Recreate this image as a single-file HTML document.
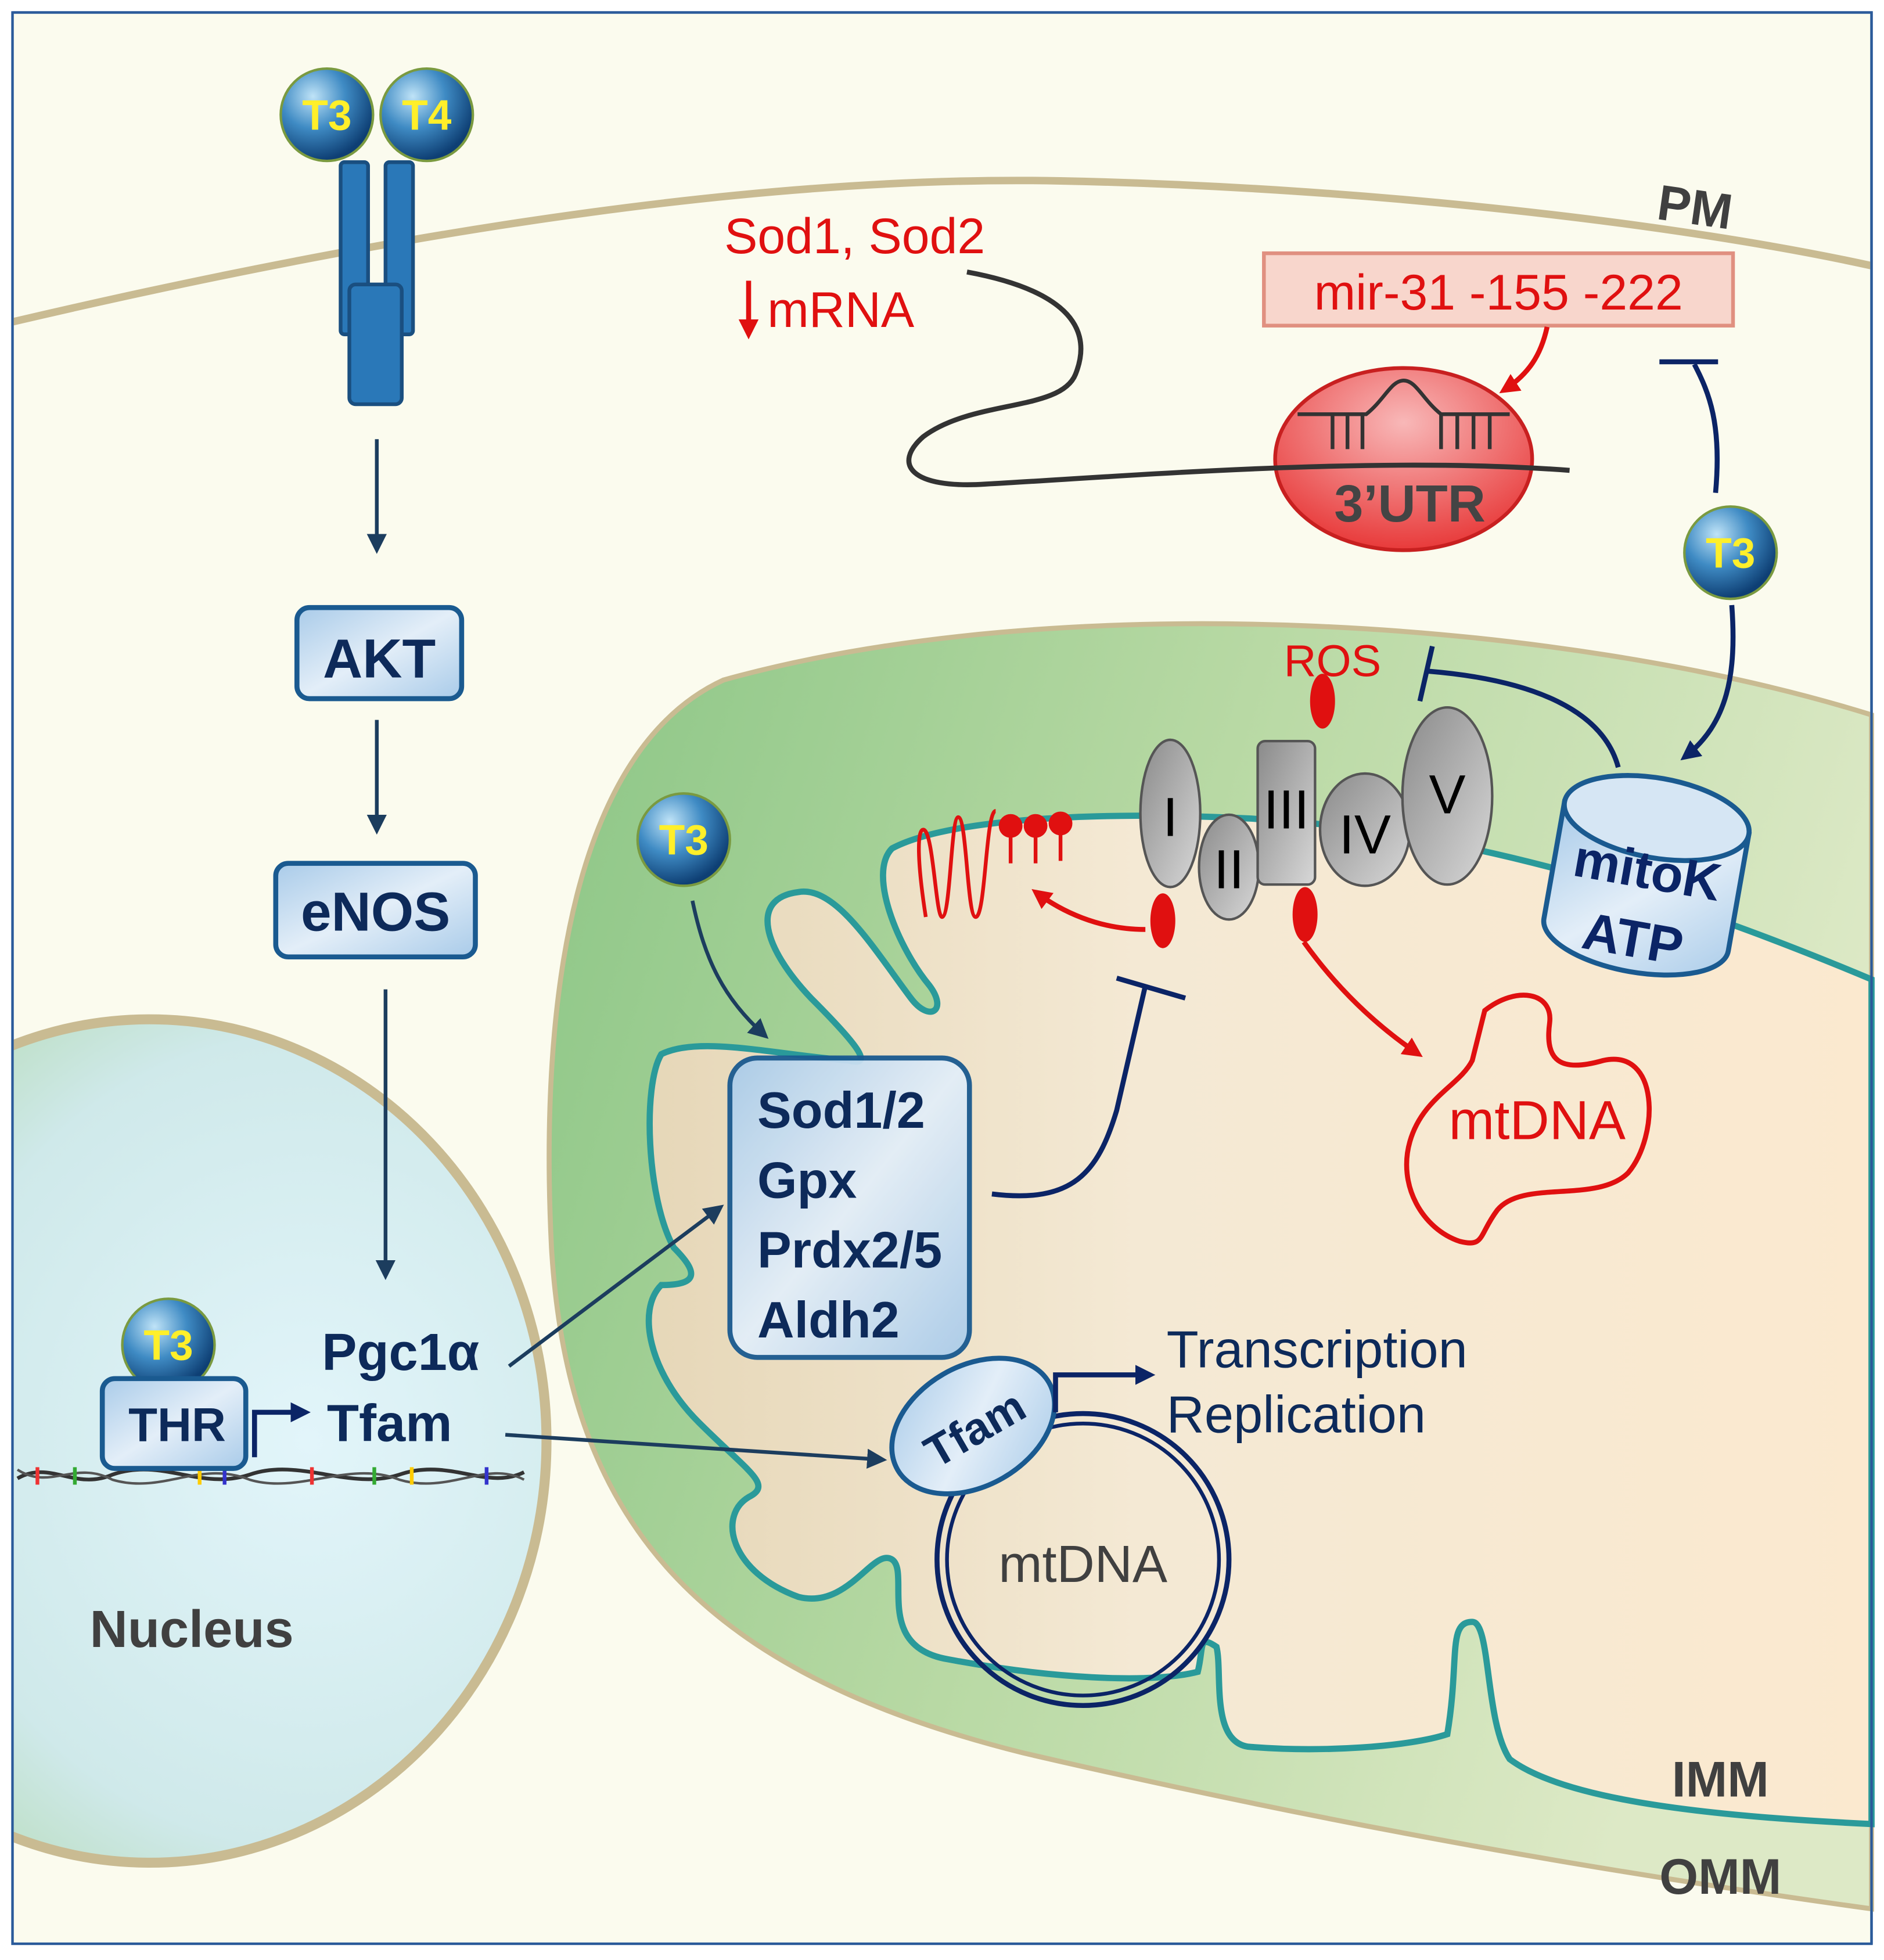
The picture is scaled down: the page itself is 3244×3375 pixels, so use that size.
<!DOCTYPE html>
<html><head><meta charset="utf-8"><style>
html,body{margin:0;padding:0;background:#fff}
svg{display:block}
text{font-family:"Liberation Sans",sans-serif}
</style></head><body>
<svg width="3244" height="3375" viewBox="0 0 1510 1571" preserveAspectRatio="none" xmlns="http://www.w3.org/2000/svg">
<defs>
<linearGradient id="mito" x1="0" y1="0" x2="1" y2="0.3">
<stop offset="0" stop-color="#8cc686"/><stop offset="0.5" stop-color="#b8d9a4"/><stop offset="1" stop-color="#dde9c6"/></linearGradient>
<linearGradient id="inner" x1="0" y1="0" x2="1" y2="0">
<stop offset="0" stop-color="#e6d7b8"/><stop offset="0.4" stop-color="#f4e9d4"/><stop offset="1" stop-color="#fbe9cf"/></linearGradient>
<radialGradient id="nuc" cx="0.7" cy="0.5" r="0.8">
<stop offset="0" stop-color="#e2f5fa"/><stop offset="0.6" stop-color="#cfe9ea"/><stop offset="1" stop-color="#a8d39a"/></radialGradient>
<radialGradient id="ball" cx="0.35" cy="0.3" r="0.7">
<stop offset="0" stop-color="#bfe3f7"/><stop offset="0.5" stop-color="#3f8bc4"/><stop offset="1" stop-color="#0e3f74"/></radialGradient>
<linearGradient id="box" x1="0" y1="0" x2="1" y2="1">
<stop offset="0" stop-color="#a9cbe9"/><stop offset="0.5" stop-color="#e3eef8"/><stop offset="1" stop-color="#a9cbe9"/></linearGradient>
<linearGradient id="gray" x1="0" y1="0" x2="1" y2="1">
<stop offset="0" stop-color="#8a8a8a"/><stop offset="1" stop-color="#d8d8d8"/></linearGradient>
<radialGradient id="utr" cx="0.5" cy="0.3" r="0.7">
<stop offset="0" stop-color="#f8b8b8"/><stop offset="1" stop-color="#e83a3a"/></radialGradient>
<marker id="ab2" markerWidth="16" markerHeight="16" refX="12" refY="8" orient="auto" markerUnits="userSpaceOnUse"><path d="M0,0 L16,8 L0,16 Z" fill="#1c3d5e"/></marker>
<marker id="an" markerWidth="16" markerHeight="16" refX="12" refY="8" orient="auto" markerUnits="userSpaceOnUse"><path d="M0,0 L16,8 L0,16 Z" fill="#0b2466"/></marker>
<marker id="ar" markerWidth="16" markerHeight="16" refX="12" refY="8" orient="auto" markerUnits="userSpaceOnUse"><path d="M0,0 L16,8 L0,16 Z" fill="#e01010"/></marker>
</defs>
<rect x="0" y="0" width="1510" height="1571" fill="#fff"/>
<rect x="10" y="10" width="1490" height="1548" fill="#fbfbee" stroke="#2a5a9a" stroke-width="2"/>
<path d="M10,258 C300,190 600,140 850,145 C1100,150 1350,180 1500,213" fill="none" stroke="#c9bb92" stroke-width="6"/>
<path d="M1500,573 C1250,495 850,470 580,545 C460,600 432,800 442,1000 C455,1220 560,1340 820,1405 C1100,1470 1320,1505 1500,1530 Z" fill="url(#mito)" stroke="#c9bb92" stroke-width="4"/>
<path d="M1500,785 C1350,722 1180,665 1000,656 C880,650 760,656 715,680 C695,700 720,760 745,790 C760,810 745,820 730,800 C700,760 670,710 640,715 C600,720 612,760 650,800 C690,840 700,855 680,850 C620,845 560,830 530,845 C515,870 518,960 540,1000 C560,1020 560,1030 530,1030 C510,1050 520,1100 560,1140 C600,1180 620,1190 600,1200 C575,1215 585,1260 640,1280 C680,1290 700,1240 715,1250 C730,1260 700,1320 760,1330 C840,1345 920,1350 960,1340 C965,1320 960,1310 975,1320 C980,1340 970,1395 1000,1400 C1060,1405 1130,1400 1160,1390 C1170,1330 1160,1300 1180,1300 C1195,1300 1190,1380 1210,1410 C1250,1440 1350,1455 1500,1462 Z" fill="url(#inner)" stroke="#2a9a9a" stroke-width="5"/>
<ellipse cx="120" cy="1155" rx="318" ry="338" fill="url(#nuc)" stroke="#c9bb92" stroke-width="8"/>
<rect x="0" y="0" width="10" height="1571" fill="#fff"/>
<rect x="0" y="1558" width="1510" height="13" fill="#fff"/>
<rect x="10" y="10" width="1490" height="1548" fill="none" stroke="#2a5a9a" stroke-width="2"/>
<path d="M14,1185 C40,1170 60,1195 90,1182 C130,1168 160,1195 200,1182 C240,1168 280,1195 320,1182 C360,1168 390,1195 420,1180" fill="none" stroke="#333" stroke-width="3"/>
<path d="M14,1178 C40,1195 60,1170 90,1186 C130,1198 160,1170 200,1186 C240,1198 280,1170 320,1186 C360,1198 390,1170 420,1186" fill="none" stroke="#555" stroke-width="2"/>
<g stroke-width="3"><line x1="30" y1="1176" x2="30" y2="1190" stroke="#e33"/><line x1="60" y1="1176" x2="60" y2="1190" stroke="#3a3"/><line x1="160" y1="1176" x2="160" y2="1190" stroke="#fc0"/><line x1="180" y1="1176" x2="180" y2="1190" stroke="#33c"/><line x1="250" y1="1176" x2="250" y2="1190" stroke="#e33"/><line x1="300" y1="1176" x2="300" y2="1190" stroke="#3a3"/><line x1="330" y1="1176" x2="330" y2="1190" stroke="#fc0"/><line x1="390" y1="1176" x2="390" y2="1190" stroke="#33c"/></g>
<rect x="273" y="130" width="22" height="138" rx="3" fill="#2a78b8" stroke="#1a4f80" stroke-width="3"/>
<rect x="309" y="130" width="22" height="138" rx="3" fill="#2a78b8" stroke="#1a4f80" stroke-width="3"/>
<rect x="280" y="228" width="42" height="96" rx="5" fill="#2a78b8" stroke="#1a4f80" stroke-width="3"/>
<g font-weight="bold" font-size="34" fill="#ffef2a" text-anchor="middle">
<circle cx="262" cy="92" r="37" fill="url(#ball)" stroke="#7a9a40" stroke-width="2"/><text x="262" y="104">T3</text>
<circle cx="342" cy="92" r="37" fill="url(#ball)" stroke="#7a9a40" stroke-width="2"/><text x="342" y="104">T4</text>
<circle cx="1387" cy="443" r="37" fill="url(#ball)" stroke="#7a9a40" stroke-width="2"/><text x="1387" y="455">T3</text>
<circle cx="548" cy="673" r="37" fill="url(#ball)" stroke="#7a9a40" stroke-width="2"/><text x="548" y="685">T3</text>
<circle cx="135" cy="1078" r="37" fill="url(#ball)" stroke="#7a9a40" stroke-width="2"/><text x="135" y="1090">T3</text>
</g>
<line x1="302" y1="352" x2="302" y2="440" stroke="#1c3d5e" stroke-width="3" marker-end="url(#ab2)"/>
<rect x="238" y="487" width="132" height="73" rx="10" fill="url(#box)" stroke="#1a5a90" stroke-width="4"/>
<text x="304" y="543" font-size="44" font-weight="bold" fill="#0d2a5a" text-anchor="middle">AKT</text>
<line x1="302" y1="577" x2="302" y2="665" stroke="#1c3d5e" stroke-width="3" marker-end="url(#ab2)"/>
<rect x="221" y="692" width="160" height="75" rx="10" fill="url(#box)" stroke="#1a5a90" stroke-width="4"/>
<text x="301" y="746" font-size="44" font-weight="bold" fill="#0d2a5a" text-anchor="middle">eNOS</text>
<line x1="309" y1="793" x2="309" y2="1022" stroke="#1c3d5e" stroke-width="3" marker-end="url(#ab2)"/>
<rect x="82" y="1105" width="115" height="72" rx="10" fill="url(#box)" stroke="#1a5a90" stroke-width="4"/>
<text x="142" y="1155" font-size="38" font-weight="bold" fill="#0d2a5a" text-anchor="middle">THR</text>
<path d="M204,1168 L204,1132 L245,1132" fill="none" stroke="#0b2466" stroke-width="4" marker-end="url(#an)"/>
<text x="258" y="1098" font-size="42" font-weight="bold" fill="#0d2a5a">Pgc1α</text>
<text x="262" y="1155" font-size="42" font-weight="bold" fill="#0d2a5a">Tfam</text>
<text x="72" y="1320" font-size="42" font-weight="bold" fill="#404040">Nucleus</text>
<line x1="408" y1="1095" x2="577" y2="968" stroke="#1c3d5e" stroke-width="3" marker-end="url(#ab2)"/>
<line x1="405" y1="1150" x2="707" y2="1170" stroke="#1c3d5e" stroke-width="3" marker-end="url(#ab2)"/>
<rect x="585" y="848" width="192" height="240" rx="22" fill="url(#box)" stroke="#1a5a90" stroke-width="4" opacity="0.95"/>
<g font-size="41" font-weight="bold" fill="#0d2a5a"><text x="607" y="904">Sod1/2</text><text x="607" y="960">Gpx</text><text x="607" y="1016">Prdx2/5</text><text x="607" y="1072">Aldh2</text></g>
<path d="M555,722 C565,770 580,800 613,830" fill="none" stroke="#1c3d5e" stroke-width="3" marker-end="url(#ab2)"/>
<path d="M795,957 C860,965 880,940 895,890 L918,790" fill="none" stroke="#0b2466" stroke-width="4"/>
<line x1="895" y1="784" x2="950" y2="800" stroke="#0b2466" stroke-width="4"/>
<circle cx="868" cy="1250" r="117" fill="none" stroke="#0b2466" stroke-width="4"/>
<circle cx="868" cy="1250" r="109" fill="none" stroke="#0b2466" stroke-width="3"/>
<text x="868" y="1268" font-size="42" fill="#404040" text-anchor="middle">mtDNA</text>
<ellipse cx="780" cy="1143" rx="70" ry="48" transform="rotate(-30 780 1143)" fill="url(#box)" stroke="#1a5a90" stroke-width="4"/>
<text x="780" y="1158" font-size="36" font-weight="bold" fill="#0d2a5a" text-anchor="middle" transform="rotate(-30 780 1143)">Tfam</text>
<path d="M846,1132 L846,1102 L922,1102" fill="none" stroke="#0b2466" stroke-width="4" marker-end="url(#an)"/>
<text x="935" y="1096" font-size="42" fill="#0d2a5a">Transcription</text>
<text x="935" y="1148" font-size="42" fill="#0d2a5a">Replication</text>
<path d="M1190,810 C1215,790 1245,795 1242,820 C1238,850 1250,860 1285,850 C1330,840 1330,910 1305,940 C1280,965 1220,945 1200,970 C1185,990 1190,1000 1170,995 C1140,985 1120,950 1130,915 C1140,880 1170,870 1180,850 Z" fill="none" stroke="#e01010" stroke-width="4"/>
<text x="1232" y="913" font-size="44" fill="#e01010" text-anchor="middle">mtDNA</text>
<path d="M1045,755 C1070,790 1100,820 1137,845" fill="none" stroke="#e01010" stroke-width="4" marker-end="url(#ar)"/>
<path d="M918,745 C880,745 850,730 830,715" fill="none" stroke="#e01010" stroke-width="4" marker-end="url(#ar)"/>
<path d="M742,735 C735,690 735,665 740,665 C748,665 750,735 755,735 C762,735 762,655 768,655 C775,655 775,735 782,735 C790,735 790,650 798,650" fill="none" stroke="#e01010" stroke-width="3"/>
<g stroke="#e01010" stroke-width="3" fill="#e01010"><line x1="810" y1="662" x2="810" y2="692"/><circle cx="810" cy="662" r="8"/><line x1="830" y1="662" x2="830" y2="692"/><circle cx="830" cy="662" r="8"/><line x1="850" y1="660" x2="850" y2="690"/><circle cx="850" cy="660" r="8"/></g>
<ellipse cx="938" cy="652" rx="24" ry="59" fill="url(#gray)" stroke="#555" stroke-width="2"/>
<ellipse cx="985" cy="695" rx="24" ry="42" fill="url(#gray)" stroke="#555" stroke-width="2"/>
<rect x="1008" y="594" width="46" height="115" rx="6" fill="url(#gray)" stroke="#555" stroke-width="2"/>
<ellipse cx="1094" cy="665" rx="36" ry="45" fill="url(#gray)" stroke="#555" stroke-width="2"/>
<ellipse cx="1160" cy="638" rx="36" ry="71" fill="url(#gray)" stroke="#555" stroke-width="2"/>
<g font-size="44" fill="#000" text-anchor="middle"><text x="938" y="670">I</text><text x="985" y="712">II</text><text x="1031" y="664">III</text><text x="1094" y="684">IV</text><text x="1160" y="652">V</text></g>
<g fill="#e01010"><ellipse cx="1060" cy="562" rx="10" ry="22"/><ellipse cx="932" cy="738" rx="10" ry="22"/><ellipse cx="1046" cy="733" rx="10" ry="22"/></g>
<text x="1068" y="542" font-size="36" fill="#e01010" text-anchor="middle">ROS</text>
<g transform="rotate(10 1320 700)">
<path d="M1245,655 L1245,750 A75,30 0 0 0 1395,750 L1395,655 Z" fill="url(#box)" stroke="#1a5a90" stroke-width="4"/>
<ellipse cx="1320" cy="655" rx="75" ry="32" fill="#d6e6f4" stroke="#1a5a90" stroke-width="4"/>
<g font-size="42" font-weight="bold" fill="#0b2466" text-anchor="middle"><text x="1320" y="712">mitoK</text><text x="1318" y="768">ATP</text></g>
</g>
<path d="M1297,615 C1285,570 1230,545 1145,538" fill="none" stroke="#0b2466" stroke-width="4"/>
<line x1="1148" y1="518" x2="1138" y2="562" stroke="#0b2466" stroke-width="4"/>
<path d="M1388,485 C1392,540 1385,580 1350,607" fill="none" stroke="#0b2466" stroke-width="4" marker-end="url(#an)"/>
<path d="M1375,395 C1380,340 1370,315 1358,292" fill="none" stroke="#0b2466" stroke-width="4"/>
<line x1="1330" y1="290" x2="1377" y2="290" stroke="#0b2466" stroke-width="4"/>
<text x="685" y="203" font-size="40" fill="#e01010" text-anchor="middle">Sod1, Sod2</text>
<line x1="600" y1="225" x2="600" y2="268" stroke="#e01010" stroke-width="4" marker-end="url(#ar)"/>
<text x="615" y="262" font-size="40" fill="#e01010">mRNA</text>
<rect x="1013" y="203" width="376" height="58" fill="#f8d6cc" stroke="#e09080" stroke-width="3"/>
<text x="1201" y="248" font-size="40" fill="#e01010" text-anchor="middle">mir-31 -155 -222</text>
<path d="M1240,262 C1235,285 1225,300 1205,313" fill="none" stroke="#e01010" stroke-width="4" marker-end="url(#ar)"/>
<ellipse cx="1125" cy="368" rx="103" ry="73" fill="url(#utr)" stroke="#c82020" stroke-width="3"/>
<path d="M1040,332 L1095,332 C1110,320 1115,305 1125,305 C1135,305 1140,320 1155,332 L1210,332" fill="none" stroke="#333" stroke-width="3"/>
<g stroke="#333" stroke-width="3"><line x1="1068" y1="332" x2="1068" y2="360"/><line x1="1080" y1="332" x2="1080" y2="360"/><line x1="1092" y1="332" x2="1092" y2="360"/><line x1="1155" y1="332" x2="1155" y2="360"/><line x1="1168" y1="332" x2="1168" y2="360"/><line x1="1181" y1="332" x2="1181" y2="360"/><line x1="1194" y1="332" x2="1194" y2="360"/></g>
<path d="M775,218 C840,230 880,255 862,300 C850,330 780,320 740,350 C715,372 730,392 790,388 C900,382 1100,365 1258,377" fill="none" stroke="#333" stroke-width="4"/>
<text x="1130" y="418" font-size="42" font-weight="bold" fill="#444" text-anchor="middle">3’UTR</text>
<g font-size="40" font-weight="bold" fill="#404040"><text x="1328" y="180" transform="rotate(8 1360 170)">PM</text><text x="1340" y="1440">IMM</text><text x="1330" y="1518">OMM</text></g>
</svg>
</body></html>
